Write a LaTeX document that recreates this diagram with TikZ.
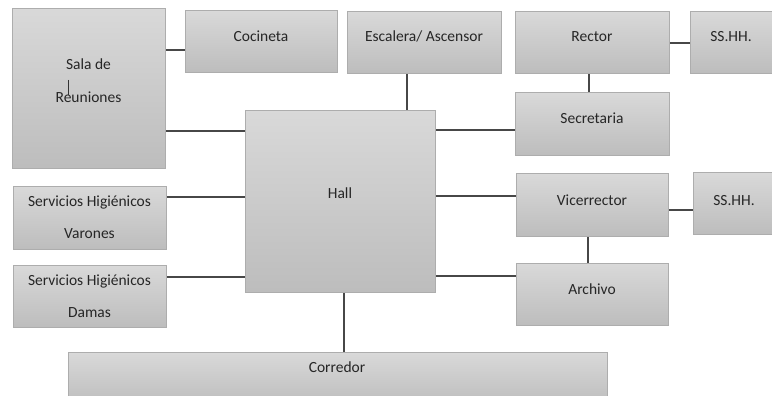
\documentclass[tikz,border=0pt]{standalone}
\usepackage{fontspec}
\setmainfont{Carlito}
\begin{document}
\begin{tikzpicture}[x=1pt,y=-1pt,
  room/.style={rectangle, draw=black!32, line width=1.1pt, top color=black!15, bottom color=black!26, inner sep=0pt, anchor=north west},
  txt/.style={anchor=base, inner sep=0pt, text=black!85, font=\fontsize{15.5}{19}\selectfont},
  link/.style={draw=black!72, line width=1.3pt}]
\useasboundingbox (0,0) rectangle (772,396);
\fill[white] (0,0) rectangle (772,396);
\clip (0,0) rectangle (772,396);
% rooms
\node[room, minimum width=153pt, minimum height=160pt] (sala) at (12,8) {};
\node[room, minimum width=152pt, minimum height=62pt] (cocineta) at (185,10) {};
\node[room, minimum width=154pt, minimum height=62pt] (escalera) at (347,11) {};
\node[room, minimum width=154pt, minimum height=62pt] (rector) at (515,11) {};
\node[room, minimum width=90pt, minimum height=62pt] (sshhA) at (690,11) {};
\node[room, minimum width=154pt, minimum height=63pt] (secretaria) at (515,92) {};
\node[room, minimum width=190pt, minimum height=182pt] (hall) at (245,110) {};
\node[room, minimum width=153pt, minimum height=63pt] (varones) at (13,186) {};
\node[room, minimum width=153pt, minimum height=62pt] (damas) at (13,265) {};
\node[room, minimum width=152pt, minimum height=63pt] (vicerrector) at (516,173) {};
\node[room, minimum width=87pt, minimum height=62pt] (sshhB) at (693,172) {};
\node[room, minimum width=152pt, minimum height=62pt] (archivo) at (516,263) {};
\node[room, minimum width=539pt, minimum height=53pt] (corredor) at (68,352) {};
% texts
\node[txt] (salaT1) at (88.5,70) {Sala de};
\node[txt] (salaT2) at (88.5,102.5) {Reuniones};
\draw[black!80, line width=0.7pt] (68,80) coordinate (curA) -- (68,95) coordinate (curB);
\node[txt] (cocinetaT) at (261,42) {Cocineta};
\node[txt] (escaleraT) at (424,42) {Escalera/ Ascensor};
\node[txt] (rectorT) at (592,42) {Rector};
\node[txt] (sshhAT) at (731,42) {SS.HH.};
\node[txt] (secretariaT) at (592,124) {Secretaria};
\node[txt] (hallT) at (340,198) {Hall};
\node[txt] (varonesT1) at (89.5,206.5) {Servicios Higiénicos};
\node[txt] (varonesT2) at (89.5,238) {Varones};
\node[txt] (damasT1) at (89.5,285) {Servicios Higiénicos};
\node[txt] (damasT2) at (89.5,317) {Damas};
\node[txt] (vicerrectorT) at (592,205) {Vicerrector};
\node[txt] (sshhBT) at (734,205) {SS.HH.};
\node[txt] (archivoT) at (592,294) {Archivo};
\node[txt] (corredorT) at (337,372) {Corredor};
% connectors
\draw[link] (sala.east |- 0,50) -- (cocineta.west |- 0,50);
\draw[link] (sala.east |- 0,131) -- (hall.west |- 0,131);
\draw[link] (escalera.south -| 407,0) -- (hall.north -| 407,0);
\draw[link] (hall.east |- 0,130) -- (secretaria.west |- 0,130);
\draw[link] (rector.south -| 589,0) -- (secretaria.north -| 589,0);
\draw[link] (rector.east |- 0,43) -- (sshhA.west |- 0,43);
\draw[link] (varones.east |- 0,197) -- (hall.west |- 0,197);
\draw[link] (damas.east |- 0,277) -- (hall.west |- 0,277);
\draw[link] (hall.south -| 344,0) -- (corredor.north -| 344,0);
\draw[link] (hall.east |- 0,196) -- (vicerrector.west |- 0,196);
\draw[link] (vicerrector.east |- 0,210) -- (sshhB.west |- 0,210);
\draw[link] (vicerrector.south -| 588,0) -- (archivo.north -| 588,0);
\draw[link] (hall.east |- 0,276) -- (archivo.west |- 0,276);
\end{tikzpicture}
\end{document}
